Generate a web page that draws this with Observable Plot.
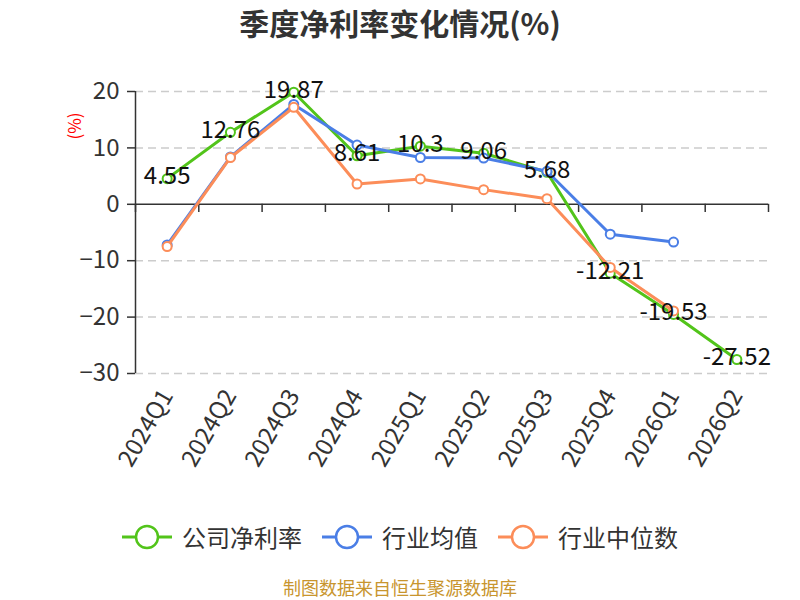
<!DOCTYPE html>
<html><head><meta charset="utf-8">
<script src="https://cdn.jsdelivr.net/npm/d3@7"></script>
<script src="https://cdn.jsdelivr.net/npm/@observablehq/plot@0.6"></script>
<style>
body{margin:0;background:#fff;font-family:"Noto Sans CJK SC","Noto Sans",sans-serif;}
#wrap{position:relative;width:800px;height:600px;overflow:hidden;background:#fff}
#chart{position:absolute;left:0;top:0}
#title{position:absolute;top:5px;left:0;width:800px;text-align:center;font-size:30px;line-height:34px;font-weight:bold;color:#333}
#ylabel{position:absolute;left:73px;top:126px;transform:translate(-50%,-50%) rotate(-90deg);font-size:17px;line-height:17px;color:#ff0000;white-space:nowrap}
#legend{position:absolute;top:522px;left:0;width:800px;height:30px;display:flex;justify-content:center;align-items:center;}
.item{display:flex;align-items:center;margin:0 10px;}
.item span{font-size:24px;line-height:30px;color:#333;margin-left:10px}
#caption{position:absolute;top:577px;left:0;width:800px;text-align:center;font-size:18px;line-height:20px;color:#c8952e}
</style></head><body>
<div id="wrap">
 <div id="chart"></div>
 <div id="title">季度净利率变化情况(%)</div>
 <div id="ylabel">(%)</div>
 <div id="legend"></div>
 <div id="caption">制图数据来自恒生聚源数据库</div>
</div>
<script>
const quarters = ["2024Q1","2024Q2","2024Q3","2024Q4","2025Q1","2025Q2","2025Q3","2025Q4","2026Q1","2026Q2"];
const companyRate = [4.55, 12.76, 19.87, 8.61, 10.3, 9.06, 5.68, -12.21, -19.53, -27.52];
const industryMean = [-7.2, 8.4, 17.7, 10.5, 8.3, 8.2, 5.85, -5.3, -6.7, null];
const industryMedian = [-7.5, 8.3, 17.2, 3.6, 4.5, 2.6, 1.0, -11.2, -18.9, null];
const yTicks = [20, 10, 0, -10, -20, -30];
const seriesNames = ["公司净利率", "行业均值", "行业中位数"];
const seriesColors = ["#52c41a", "#4a7ee6", "#fc8d59"];

const seriesValues = [companyRate, industryMean, industryMedian];
const tables = seriesValues.map((vals, s) => quarters.map((q, i) => ({quarter: q, pos: i + 0.5, value: vals[i], series: seriesNames[s]})));
const boundaries = d3.range(quarters.length + 1);

const marks = [
  Plot.ruleY(yTicks.filter(v => v !== 0), {stroke: "#cccccc", strokeWidth: 1.5, strokeDasharray: "8 5"}),
  Plot.ruleY([0], {stroke: "#333", strokeWidth: 1.5}),
  Plot.ruleX([0], {stroke: "#333", strokeWidth: 1.5}),
  Plot.ruleX(boundaries, {x: d => d, y1: 0, y2: -1.45, stroke: "#333", strokeWidth: 1.5}),
  Plot.axisY({ticks: yTicks, tickSize: 8, tickPadding: 8, fontSize: 24, stroke: "#333", strokeWidth: 1.5, label: null}),
  Plot.axisX({ticks: quarters.map((q, i) => i + 0.5), tickFormat: d => quarters[Math.floor(d)], tickSize: 0, tickPadding: 18, tickRotate: -60, fontSize: 24, label: null})
];
tables.forEach((t, s) => {
  const defined = t.filter(d => d.value != null);
  marks.push(Plot.line(defined, {x: "pos", y: "value", stroke: seriesColors[s], strokeWidth: 3}));
  marks.push(Plot.dot(defined, {x: "pos", y: "value", r: 4.5, fill: "white", stroke: seriesColors[s], strokeWidth: 2}));
});
marks.push(Plot.text(tables[0], {x: "pos", y: "value", text: d => String(d.value), fontSize: 24, fill: "#111", dy: -2}));

const chart = Plot.plot({
  width: 800, height: 600,
  marginTop: 91, marginBottom: 227, marginLeft: 135, marginRight: 32,
  style: {fontFamily: "'Noto Sans CJK SC','Noto Sans',sans-serif", color: "#333", background: "white"},
  x: {type: "linear", domain: [0, quarters.length], axis: null},
  y: {domain: [-30, 20], axis: null},
  marks
});
document.getElementById("chart").appendChild(chart);

const legend = document.getElementById("legend");
seriesNames.forEach((name, s) => {
  const item = document.createElement("div");
  item.className = "item";
  item.innerHTML = `<svg width="50" height="26"><line x1="0" x2="50" y1="13" y2="13" stroke="${seriesColors[s]}" stroke-width="3"/><circle cx="25" cy="13" r="11" fill="white" stroke="${seriesColors[s]}" stroke-width="2.5"/></svg><span>${name}</span>`;
  legend.appendChild(item);
});
</script>
</body></html>
